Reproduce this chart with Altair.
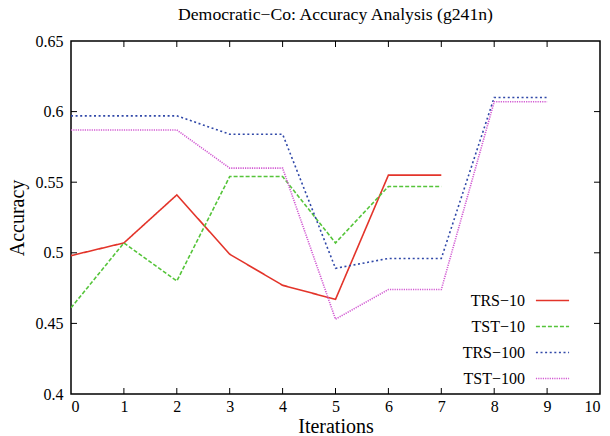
import altair as alt
import pandas as pd

iterations_10 = [0, 1, 2, 3, 4, 5, 6, 7]
iterations_100 = [0, 1, 2, 3, 4, 5, 6, 7, 8, 9]
trs_10 = [0.498, 0.507, 0.541, 0.499, 0.477, 0.467, 0.555, 0.555]
tst_10 = [0.461, 0.507, 0.480, 0.554, 0.554, 0.507, 0.547, 0.547]
trs_100 = [0.597, 0.597, 0.597, 0.584, 0.584, 0.489, 0.496, 0.496, 0.610, 0.610]
tst_100 = [0.587, 0.587, 0.587, 0.560, 0.560, 0.453, 0.474, 0.474, 0.607, 0.607]

series_names = ["TRS\u221210", "TST\u221210", "TRS\u2212100", "TST\u2212100"]
series_colors = ["#e3342a", "#55c43a", "#3048a8", "#d25ad2"]
series_dashes = [[1, 0], [4, 2], [2, 2.6], [1.2, 1.1]]

x_ticks = [1, 2, 3, 4, 5, 6, 7, 8, 9]
y_ticks = [0.45, 0.5, 0.55, 0.6]
x_labels = [0, 1, 2, 3, 4, 5, 6, 7, 8, 9, 10]
y_labels = [0.4, 0.45, 0.5, 0.55, 0.6, 0.65]

rows = []
for name, xs, ys in zip(series_names,
                        [iterations_10, iterations_10, iterations_100, iterations_100],
                        [trs_10, tst_10, trs_100, tst_100]):
    for i, (xv, yv) in enumerate(zip(xs, ys)):
        rows.append({"series": name, "iter": xv, "acc": yv, "order": i})
df = pd.DataFrame(rows)

W, H = 529, 353
FONT = "Liberation Serif"

xscale = alt.Scale(domain=[0, 10], nice=False)
yscale = alt.Scale(domain=[0.4, 0.65], nice=False, zero=False)

axis_style = dict(labelFont=FONT, labelFontSize=16, labelColor="black",
                  titleFont=FONT, titleFontSize=20, titleFontWeight="normal",
                  titleColor="black", ticks=False, domain=False, grid=False)
x_axis = alt.Axis(values=x_labels, labelPadding=4, titlePadding=2, **axis_style)
y_axis = alt.Axis(values=y_labels, format=".2~f", labelPadding=8, titlePadding=8,
                  **axis_style)

lines = alt.Chart(df).mark_line(strokeWidth=1.6, clip=True).encode(
    x=alt.X("iter:Q", scale=xscale, title="Iterations", axis=x_axis),
    y=alt.Y("acc:Q", scale=yscale, title="Accuracy", axis=y_axis),
    color=alt.Color("series:N", scale=alt.Scale(domain=series_names, range=series_colors),
                    legend=alt.Legend(orient="none", legendX=464, legendY=242,
                                      symbolType="stroke", symbolSize=1100,
                                      symbolStrokeWidth=1.6,
                                      labelAlign="right", labelOffset={"expr": "-45"},
                                      labelFont=FONT, labelFontSize=16,
                                      labelColor="black", rowPadding=0,
                                      title=None)),
    strokeDash=alt.StrokeDash("series:N",
                              scale=alt.Scale(domain=series_names, range=series_dashes),
                              legend=None),
    order="order:Q",
)

tx = pd.DataFrame({"t": x_ticks})
ty = pd.DataFrame({"t": y_ticks})

bottom_ticks = alt.Chart(tx).mark_rule(color="black", strokeWidth=1).encode(
    x=alt.X("t:Q", scale=xscale, title="Iterations", axis=x_axis),
    y=alt.value(H), y2=alt.value(H - 6))
top_ticks = alt.Chart(tx).mark_rule(color="black", strokeWidth=1).encode(
    x=alt.X("t:Q", scale=xscale, title="Iterations", axis=x_axis),
    y=alt.value(0), y2=alt.value(6))
left_ticks = alt.Chart(ty).mark_rule(color="black", strokeWidth=1).encode(
    y=alt.Y("t:Q", scale=yscale, title="Accuracy", axis=y_axis),
    x=alt.value(0), x2=alt.value(6))
right_ticks = alt.Chart(ty).mark_rule(color="black", strokeWidth=1).encode(
    y=alt.Y("t:Q", scale=yscale, title="Accuracy", axis=y_axis),
    x=alt.value(W - 6), x2=alt.value(W))

chart = alt.layer(lines, bottom_ticks, top_ticks, left_ticks, right_ticks).properties(
    width=W, height=H,
    background="white",
    title=alt.TitleParams("Democratic\u2212Co: Accuracy Analysis (g241n)",
                          font=FONT, fontSize=17.7, fontWeight="normal",
                          anchor="middle", offset=9, color="black"),
    autosize=alt.AutoSizeParams(type="none"),
    padding={"left": 71, "top": 41, "right": 10, "bottom": 42},
).configure_view(stroke="black", strokeWidth=1.5).configure_axis(
    labelFont=FONT, labelFontSize=16, labelColor="black",
    titleFont=FONT, titleFontSize=20, titleFontWeight="normal", titleColor="black",
)

chart.save("out.html", embed_options={"renderer": "svg", "actions": False})
